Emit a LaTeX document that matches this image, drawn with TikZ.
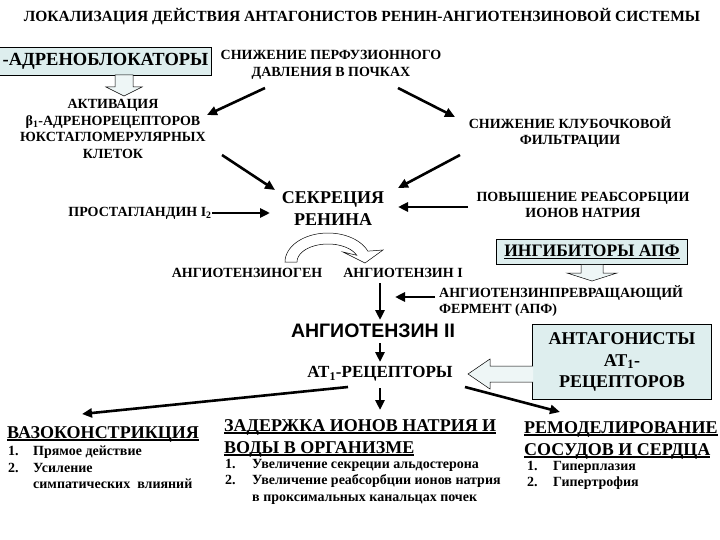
\documentclass[tikz,border=0pt]{standalone}
\usepackage{fontspec}
\setmainfont{Liberation Serif}
\setsansfont{Liberation Sans}
\usetikzlibrary{arrows.meta}
\definecolor{boxfill}{RGB}{222,238,238}
\newcommand{\thickul}[1]{\setbox0\hbox{#1}\leavevmode\rlap{\rule[-2.6pt]{\wd0}{1.5pt}}\box0}

\begin{document}
\begin{tikzpicture}[x=1pt,y=-1pt,
    txt/.style={font=\bfseries\fontsize{14}{16.5}\selectfont,align=center,inner sep=1pt},
    bigtxt/.style={font=\bfseries\fontsize{18}{22}\selectfont,align=center,inner sep=1pt},
    listtxt/.style={font=\bfseries\fontsize{14}{16.5}\selectfont,align=left,inner sep=0pt},
    drugbox/.style={draw,fill=boxfill,line width=0.6pt},
    arr/.style={line width=2.6pt,-{Triangle[length=10pt,width=9pt]}},
    hollow/.style={draw,fill=boxfill!50,line width=0.5pt}]
  \useasboundingbox (0,0) rectangle (720,540);
  % title
  \node[font=\bfseries\fontsize{15.5}{18}\selectfont] (title) at (362,17)
    {ЛОКАЛИЗАЦИЯ ДЕЙСТВИЯ АНТАГОНИСТОВ РЕНИН-АНГИОТЕНЗИНОВОЙ СИСТЕМЫ};
  % upper part
  \node[drugbox,font=\bfseries\fontsize{18.5}{20}\selectfont,anchor=east,minimum height=28pt] (betabl) at (212,61) {-АДРЕНОБЛОКАТОРЫ};
  \node[txt] (perf) at (331,65) {СНИЖЕНИЕ ПЕРФУЗИОННОГО\\ДАВЛЕНИЯ В ПОЧКАХ};
  \node[txt] (activ) at (113,129) {АКТИВАЦИЯ\\β\textsubscript{1}-АДРЕНОРЕЦЕПТОРОВ\\ЮКСТАГЛОМЕРУЛЯРНЫХ\\КЛЕТОК};
  \node[txt] (glom) at (570,132) {СНИЖЕНИЕ КЛУБОЧКОВОЙ\\ФИЛЬТРАЦИИ};
  \node[txt] (prost) at (140,213) {ПРОСТАГЛАНДИН I\textsubscript{2}};
  \node[bigtxt] (renin) at (333,209) {СЕКРЕЦИЯ\\РЕНИНА};
  \node[txt] (reabs) at (583,205) {ПОВЫШЕНИЕ РЕАБСОРБЦИИ\\ИОНОВ НАТРИЯ};
  \node[drugbox,font=\bfseries\fontsize{17.5}{19}\selectfont,minimum width=191pt,minimum height=25pt] (ingib) at (592,252) {\thickul{ИНГИБИТОРЫ АПФ}};
  % angiotensin chain
  \node[txt] (angen) at (247,273) {АНГИОТЕНЗИНОГЕН};
  \node[txt] (ang1) at (403,273) {АНГИОТЕНЗИН I};
  \node[txt,align=left,anchor=west] (apf) at (438,301) {АНГИОТЕНЗИНПРЕВРАЩАЮЩИЙ\\ФЕРМЕНТ (АПФ)};
  \node[font=\sffamily\bfseries\fontsize{19.5}{22}\selectfont] (ang2) at (373,331) {АНГИОТЕНЗИН II};
  \node[font=\bfseries\fontsize{17}{20}\selectfont] (at1) at (380,374) {АТ\textsubscript{1}-РЕЦЕПТОРЫ};
  \node[drugbox,font=\bfseries\fontsize{18}{21.5}\selectfont,align=center,minimum width=179pt,minimum height=75pt] (antag) at (622,362) {АНТАГОНИСТЫ\\АТ\textsubscript{1}-\\РЕЦЕПТОРОВ};
  % effects
  \node[bigtxt,anchor=west] (vaso) at (6,434) {\thickul{ВАЗОКОНСТРИКЦИЯ}};
  \node[listtxt,anchor=north west] (vasolist) at (8,446)
    {\makebox[25pt][l]{1.}Прямое действие\\\makebox[25pt][l]{2.}Усиление\\\hspace*{25pt}симпатических\ \ влияний};
  \node[bigtxt,align=left,anchor=north west] (zad) at (223,418) {\thickul{ЗАДЕРЖКА ИОНОВ НАТРИЯ И}\\\thickul{ВОДЫ В ОРГАНИЗМЕ}};
  \node[listtxt,anchor=north west] (zadlist) at (225,459)
    {\makebox[27pt][l]{1.}Увеличение секреции альдостерона\\\makebox[27pt][l]{2.}Увеличение реабсорбции ионов натрия\\\hspace*{27pt}в проксимальных канальцах почек};
  \node[bigtxt,align=left,anchor=north west] (remod) at (523,420) {\thickul{РЕМОДЕЛИРОВАНИЕ}\\\thickul{СОСУДОВ И СЕРДЦА}};
  \node[listtxt,anchor=north west] (remodlist) at (527,461)
    {\makebox[26pt][l]{1.}Гиперплазия\\\makebox[26pt][l]{2.}Гипертрофия};
  % connectors
  \draw[arr] ([shift={(-66,23)}]perf.center) -- ([shift={(94,-14)}]activ.center);
  \draw[arr] ([shift={(67,23)}]perf.center) -- ([shift={(-115,-15)}]glom.center);
  \draw[arr] ([shift={(109,26)}]activ.center) -- ([shift={(-58,-19)}]renin.center);
  \draw[arr] ([shift={(-110,23)}]glom.center) -- ([shift={(65,-21)}]renin.center);
  \draw[arr] ([shift={(72,0)}]prost.center) -- ([shift={(-63,4)}]renin.center);
  \draw[arr] ([shift={(-115,2)}]reabs.center) -- ([shift={(65,-2)}]renin.center);
  \draw[arr] ([shift={(-23,10)}]ang1.center) -- ([shift={(7,-11)}]ang2.center);
  \draw[arr] ([shift={(-3,-4)}]apf.west) -- +(-40,0);
  \draw[arr] ([shift={(7,12)}]ang2.center) -- ([shift={(0,-12)}]at1.center);
  \draw[arr] ([shift={(-32,13)}]at1.center) -- ([shift={(76,-20)}]vaso.west);
  \draw[arr] ([shift={(0,14)}]at1.center) -- ([shift={(157,-8)}]zad.north west);
  \draw[arr] ([shift={(85,13)}]at1.center) -- ([shift={(37,-8)}]remod.north west);
  % hollow arrows
  \draw[hollow] (115,75) -- (133,75) -- (133,87) -- (142,87) -- (124,96) -- (106,87) -- (115,87) -- cycle;
  \draw[hollow] (581,264.5) -- (603,264.5) -- (603,273) -- (617,273) -- (592,281) -- (567,273) -- (581,273) -- cycle;
  \draw[hollow] (533,366) -- (490,366) -- (490,359) -- (468,374) -- (490,389) -- (490,382) -- (533,382);
  \draw[line width=0.5pt,fill=white]
    plot[domain=180:22,samples=30] ({328+43*cos(\x)},{262-29*sin(\x)})
    -- (383,250) -- (365,263) -- (343,252)
    -- plot[domain=22:180,samples=30] ({328+31*cos(\x)},{262-18*sin(\x)}) -- cycle;
\end{tikzpicture}
\end{document}
